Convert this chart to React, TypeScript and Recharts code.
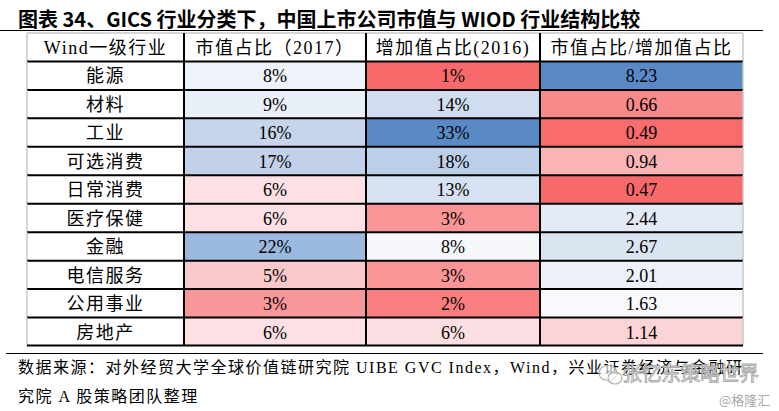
import React from 'react';
import { BarChart, Bar, XAxis, YAxis } from 'recharts';

const headers = ['Wind一级行业', '市值占比（2017）', '增加值占比(2016)', '市值占比/增加值占比'];
const industries = ['能源', '材料', '工业', '可选消费', '日常消费', '医疗保健', '金融', '电信服务', '公用事业', '房地产'];
const mktShare2017 = [8, 9, 16, 17, 6, 6, 22, 5, 3, 6];
const vaShare2016 = [1, 14, 33, 18, 13, 3, 8, 3, 2, 6];
const ratio = [8.23, 0.66, 0.49, 0.94, 0.47, 2.44, 2.67, 2.01, 1.63, 1.14];

// styles (cell colours per column)
const mktColors = ['#eef2f9', '#eaf0f8', '#c6d5eb', '#c1d1e9', '#fce0e3', '#fce0e3', '#9bb8de', '#f9c8cb', '#f8979a', '#fce0e3'];
const vaColors = ['#f8696b', '#d0ddef', '#5a8ac6', '#bccfe8', '#d6e1f1', '#f99597', '#f6f8fc', '#f99597', '#f87e80', '#fcdfe2'];
const ratioColors = ['#5a8ac6', '#f98a8c', '#f86c6e', '#fbb4b6', '#f8696b', '#e3eaf5', '#dbe5f2', '#edf1f9', '#f8f9fd', '#fcd3d6'];

const COL_W = [157, 182, 174, 203];
const TOTAL_W = COL_W.reduce((a, b) => a + b, 0);

const rows = [
  { key: 'header', c0: COL_W[0], c1: COL_W[1], c2: COL_W[2], c3: COL_W[3], labels: headers, fills: ['#ffffff', '#ffffff', '#ffffff', '#ffffff'] },
  ...industries.map((name, i) => ({
    key: name,
    c0: COL_W[0], c1: COL_W[1], c2: COL_W[2], c3: COL_W[3],
    labels: [name, `${mktShare2017[i]}%`, `${vaShare2016[i]}%`, ratio[i].toFixed(2)],
    fills: ['#ffffff', mktColors[i], vaColors[i], ratioColors[i]],
  })),
];

const LAST = rows.length - 1;

const makeShape = (col: number) => (props: any) => {
  const { x, y, width, height, payload, index } = props;
  const isHeader = index === 0;
  const label = payload.labels[col];
  const isCjkCell = col === 0 || isHeader;
  return (
    <g>
      <rect x={x} y={y} width={width} height={height} fill={payload.fills[col]} />
      <text
        x={x + width / 2}
        y={y + height / 2 + 1}
        textAnchor="middle"
        dominantBaseline="central"
        fontSize={18}
        fill="#000"
        letterSpacing={isCjkCell ? 1.5 : 0}
        fontFamily="'Liberation Serif', 'Noto Sans CJK SC', serif"
      >
        {label}
      </text>
      <line x1={x} x2={x + width} y1={y} y2={y} stroke={isHeader ? '#c8c8c8' : '#000'} strokeWidth={isHeader ? 1.5 : 2} />
      <line x1={x} x2={x} y1={y} y2={y + height} stroke={col === 0 ? '#c8c8c8' : '#000'} strokeWidth={col === 0 ? 1.5 : 2} />
      {col === 3 && <line x1={x + width} x2={x + width} y1={y} y2={y + height} stroke="#c8c8c8" strokeWidth={1.5} />}
      {index === LAST && <line x1={x} x2={x + width} y1={y + height} y2={y + height} stroke="#000" strokeWidth={2} />}
    </g>
  );
};

export default function App() {
  return (
    <div style={{ position: 'absolute', left: 0, top: 0, width: 779, height: 411, background: '#fff', overflow: 'hidden' }}>
      <div
        style={{
          position: 'absolute', left: 18, top: 4, fontSize: 20, fontWeight: 700, whiteSpace: 'nowrap',
          fontFamily: "'Noto Sans CJK SC', sans-serif", color: '#000', letterSpacing: 0,
        }}
      >
        图表 34、GICS 行业分类下，中国上市公司市值与 WIOD 行业结构比较
      </div>
      <div style={{ position: 'absolute', left: 0, top: 30, width: 763, height: 0, borderTop: '1.5px solid #000' }} />
      <div style={{ position: 'absolute', left: 0, top: 0 }}>
        <BarChart
          width={779}
          height={411}
          layout="vertical"
          data={rows}
          margin={{ top: 33, right: 779 - 27 - TOTAL_W, bottom: 65, left: 27 }}
          barCategoryGap={0}
        >
          <XAxis type="number" hide domain={[0, TOTAL_W]} />
          <YAxis type="category" dataKey="key" hide />
          <Bar dataKey="c0" stackId="t" shape={makeShape(0)} isAnimationActive={false} />
          <Bar dataKey="c1" stackId="t" shape={makeShape(1)} isAnimationActive={false} />
          <Bar dataKey="c2" stackId="t" shape={makeShape(2)} isAnimationActive={false} />
          <Bar dataKey="c3" stackId="t" shape={makeShape(3)} isAnimationActive={false} />
        </BarChart>
      </div>
      <div style={{ position: 'absolute', left: 6, top: 353, width: 757, height: 0, borderTop: '1.5px solid #000' }} />
      <div
        style={{
          position: 'absolute', left: 18, top: 357, fontSize: 16, whiteSpace: 'nowrap', lineHeight: '22px',
          fontFamily: "'Liberation Serif', 'Noto Sans CJK SC', serif", color: '#000', letterSpacing: 1.5,
        }}
      >
        数据来源：对外经贸大学全球价值链研究院 UIBE GVC Index，Wind，兴业证券经济与金融研
      </div>
      <div
        style={{
          position: 'absolute', left: 18, top: 386, fontSize: 16, whiteSpace: 'nowrap', lineHeight: '22px',
          fontFamily: "'Liberation Serif', 'Noto Sans CJK SC', serif", color: '#000', letterSpacing: 1.5,
        }}
      >
        究院 A 股策略团队整理
      </div>
      <svg style={{ position: 'absolute', left: 596, top: 362 }} width={30} height={26}>
        <ellipse cx={12} cy={11} rx={9} ry={7.5} fill="rgba(255,255,255,0.6)" stroke="#b0b0b0" strokeWidth={1.2} />
        <ellipse cx={19} cy={16} rx={7} ry={6} fill="rgba(255,255,255,0.6)" stroke="#b0b0b0" strokeWidth={1.2} />
      </svg>
      <div
        style={{
          position: 'absolute', left: 622, top: 358, fontSize: 20, whiteSpace: 'nowrap',
          fontFamily: "'Noto Sans CJK SC', sans-serif", color: 'rgba(240,240,240,0.85)',
          WebkitTextStroke: '0.8px #a0a0a0', letterSpacing: -0.5,
        }}
      >
        张忆东策略世界
      </div>
      <div
        style={{
          position: 'absolute', left: 719, top: 390, fontSize: 13, whiteSpace: 'nowrap',
          fontFamily: "'Noto Sans CJK SC', sans-serif", color: '#a8a8a8',
        }}
      >
        @格隆汇
      </div>
    </div>
  );
}
